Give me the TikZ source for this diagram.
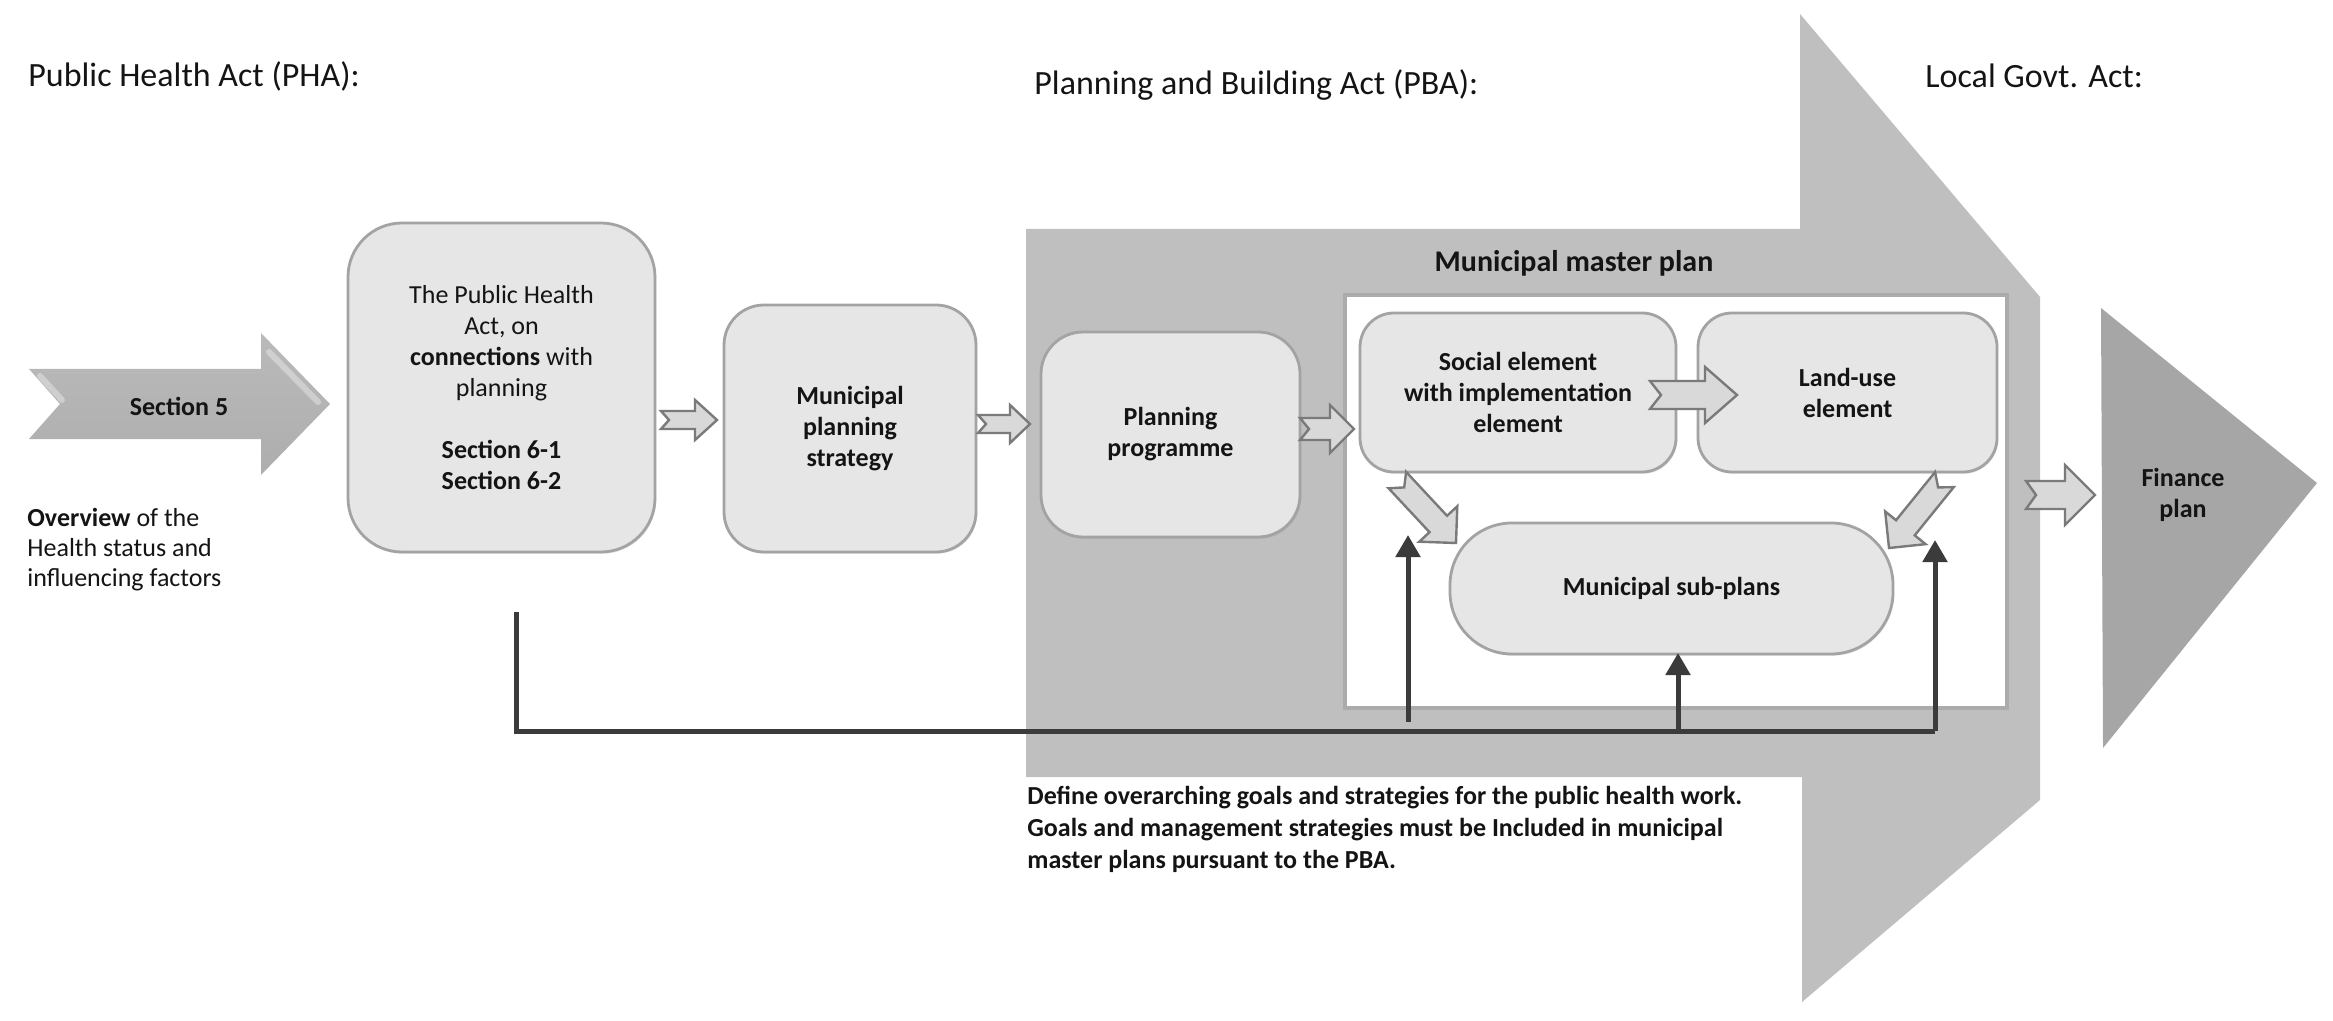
\documentclass[tikz,border=0pt]{standalone}
\usepackage{fontspec}
\setmainfont{Carlito}
\usetikzlibrary{arrows.meta,shadows}
\definecolor{arrowgray}{HTML}{BFBFBF}
\definecolor{fingray}{HTML}{A6A6A6}
\definecolor{boxfill}{HTML}{E6E6E6}
\definecolor{boxline}{HTML}{A3A3A3}
\definecolor{mpline}{HTML}{ABABAB}
\definecolor{darkline}{HTML}{3B3B3B}
\definecolor{harrfill}{HTML}{D9D9D9}
\definecolor{harrline}{HTML}{7A7A7A}
\definecolor{txt}{HTML}{141414}
\newcommand\blockarr[8]{%
  \begin{scope}[shift={(#1,#2)},rotate=#3]
    \draw[hollowarr] (0,0) -- (-#5,#6) -- (-#5,#7) -- (-#4,#7) -- (-#4+#8,0)
      -- (-#4,-#7) -- (-#5,-#7) -- (-#5,-#6) -- cycle;
  \end{scope}}
\begin{document}
\begin{tikzpicture}[x=0.5pt,y=-0.5pt,
  every node/.style={text=txt, inner sep=0pt},
  box/.style={draw=boxline, line width=1.4pt, fill=boxfill, align=center,
    font=\fontsize{13}{15.5}\selectfont,
    drop shadow={shadow xshift=0.6pt, shadow yshift=-0.9pt, opacity=0.18}},
  boldbox/.style={box, font=\bfseries\fontsize{13}{15.5}\selectfont},
  title/.style={anchor=base west, font=\fontsize{17}{20}\selectfont},
  hollowarr/.style={draw=harrline, fill=harrfill, line width=1.2pt, line join=miter},
  bus/.style={draw=darkline, line width=2.5pt},
  busarr/.style={bus, -{Triangle[width=12pt,length=11pt]}},
  bevel/.style={white, opacity=0.35, line width=3pt, line cap=round}]
\useasboundingbox (0,0) rectangle (2333,1021);

% big PBA arrow
\fill[arrowgray] (1026,229) -- (1800,229) -- (1800,14) -- (2040,297) -- (2040,800)
  -- (1802,1002) -- (1802,777) -- (1026,777) -- cycle;
% finance triangle
\fill[fingray] (2101,308) -- (2317,483) -- (2103,748) -- cycle;

% titles
\node[title] (tpha) at (28,87) {Public Health Act (PHA):};
\node[title] (tpba) at (1034,95) {Planning and Building Act (PBA):};
\node[title] (tlga) at (1925,88) {Local Govt. Act:};

% Section 5 arrow
\shade[top color=gray!54, bottom color=gray!64] (29,369) -- (261,369) -- (261,333)
  -- (330,404) -- (261,475) -- (261,439) -- (29,439) -- (60,404) -- cycle;
\draw[bevel] (40,376) -- (62,400);
\draw[bevel] (269,352) -- (318,402);
\node[font=\bfseries\fontsize{13}{15.5}\selectfont] (sec5) at (179,406) {Section 5};

\node[anchor=north west, align=left, font=\fontsize{13}{15}\selectfont] (overview) at (27,508)
  {\textbf{Overview} of the\\Health status and\\influencing factors};

% master plan white box
\node[draw=mpline, line width=2pt, fill=white, minimum width=331pt, minimum height=206.5pt]
  (master) at (1676,501.5) {};
\node[font=\bfseries\fontsize{15}{18}\selectfont] (mptitle) at (1574,263) {Municipal master plan};

% boxes
\node[box, rounded corners=27pt, minimum width=153.5pt, minimum height=164.5pt] (phabox) at (501.5,387.5)
  {The Public Health\\Act, on\\\textbf{connections} with\\planning\\[15.5pt]\textbf{Section 6-1}\\\textbf{Section 6-2}};
\node[boldbox, rounded corners=20pt, minimum width=126pt, minimum height=123.5pt] (strat) at (850,428.5)
  {Municipal\\planning\\strategy};
\node[boldbox, rounded corners=21pt, minimum width=129.5pt, minimum height=102.5pt] (prog) at (1170.5,434.5)
  {Planning\\programme};
\node[boldbox, rounded corners=17pt, minimum width=158pt, minimum height=79.5pt] (social) at (1518,392.5)
  {Social element\\with implementation\\element};
\node[boldbox, rounded corners=17pt, minimum width=149.5pt, minimum height=79.5pt] (land) at (1847.5,392.5)
  {Land-use\\element};
\node[boldbox, rounded corners=31pt, minimum width=221.5pt, minimum height=65.5pt] (sub) at (1671.5,588.5)
  {Municipal sub-plans};

% finance text
\node[align=center, font=\bfseries\fontsize{13}{15.5}\selectfont] (fin) at (2183,495) {Finance\\plan};

% hollow block arrows: tip x, tip y, angle, length, head length, head half-width, shaft half-width, notch
\blockarr{717}{420}{0}{56}{22}{20}{9}{8}
\blockarr{1030}{424}{0}{52}{20}{19}{9}{8}
\blockarr{1354}{429}{0}{54}{24}{24}{11}{9}
\blockarr{1737}{395}{0}{87}{32}{28}{14}{11}
\blockarr{1456}{543}{-47}{86}{26}{26}{12}{10}
\blockarr{1889}{548}{-129}{88}{26}{26}{12}{10}
\blockarr{2095}{495}{0}{69}{30}{30}{14}{10}

% bus connectors
\coordinate (b0) at (516,612);
\coordinate (b1) at (1935,731);
\coordinate (f1) at (1408,722);
\coordinate (t1) at (1408,535);
\coordinate (f2) at (1678,731);
\coordinate (t2) at (1678,653);
\coordinate (t3) at (1935,540);
\draw[bus] (b0) |- (b1);
\draw[busarr] (f1) -- (t1);
\draw[busarr] (f2) -- (t2);
\draw[busarr] (b1) -- (t3);

% bottom text
\node[anchor=north west, align=left, font=\bfseries\fontsize{13}{16}\selectfont] (goals) at (1027,786)
  {Define overarching goals and strategies for the public health work.\\Goals and management strategies must be Included in municipal\\master plans pursuant to the PBA.};
\end{tikzpicture}
\end{document}
